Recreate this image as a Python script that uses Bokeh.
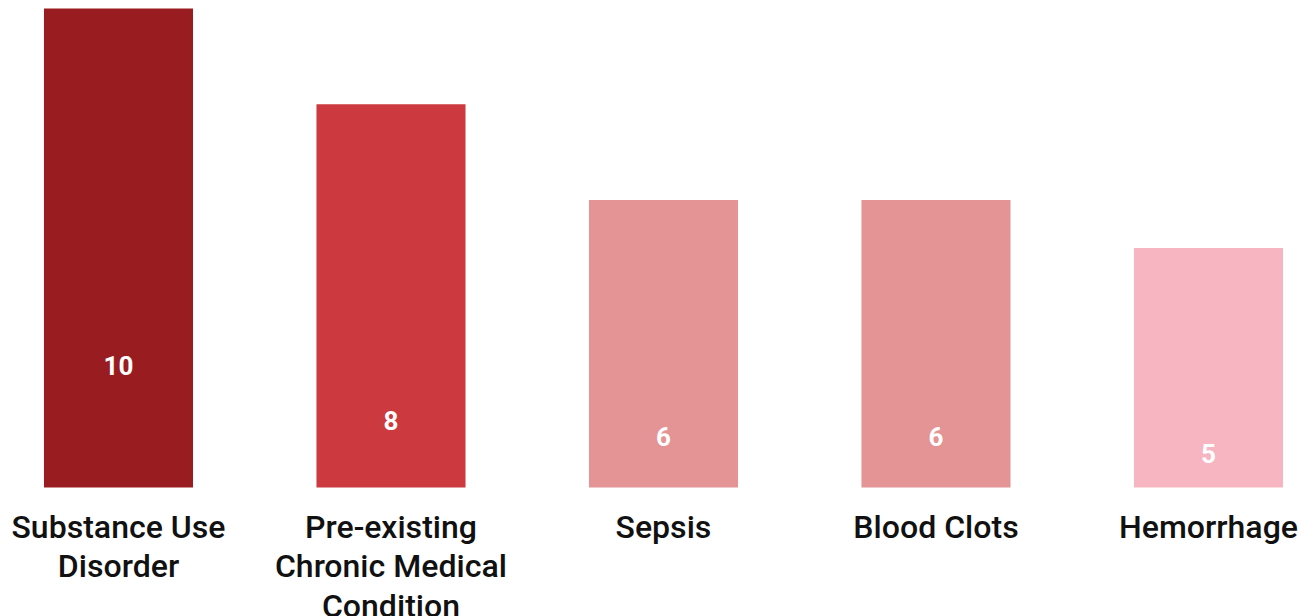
from bokeh.plotting import figure
from bokeh.models import ColumnDataSource, Range1d
from bokeh.core.properties import value
from bokeh.embed import file_html
from bokeh.resources import INLINE

categories = ["Substance Use\nDisorder", "Pre-existing\nChronic Medical\nCondition", "Sepsis", "Blood Clots", "Hemorrhage"]
counts = [10, 8, 6, 6, 5]
colors = ["#991d20", "#cc3a40", "#e49495", "#e49495", "#f7b5c1"]

# layout: where the value labels sit inside the bars (data units above zero)
label_offsets = [2.55, 1.40, 1.065, 1.065, 0.71]

xs = list(range(len(categories)))
src = ColumnDataSource(dict(
    x=xs, top=counts, color=colors,
    lab=[str(c) for c in counts], laby=label_offsets,
    cat=categories, caty=[-0.42] * len(categories),
))

p = figure(width=1302, height=616, output_backend="svg", toolbar_location=None,
           x_range=Range1d(-0.4330, 4.3450), y_range=Range1d(-2.693, 10.167),
           min_border=0, outline_line_color=None)
p.axis.visible = False
p.grid.visible = False

p.vbar(x="x", top="top", bottom=0, width=0.547, fill_color="color", line_color=None, source=src)
p.text(x="x", y="laby", text="lab", source=src, text_align="center", text_baseline="middle",
       text_color="white", text_font=value("Roboto"), text_font_style="bold", text_font_size="26px")
p.text(x="x", y="caty", text="cat", source=src, text_align="center", text_baseline="top",
       text_color="#111111", text_font=value("Roboto Medium"), text_font_size="32px",
       text_line_height=1.04)

open("out.html", "w").write(file_html(p, INLINE))
